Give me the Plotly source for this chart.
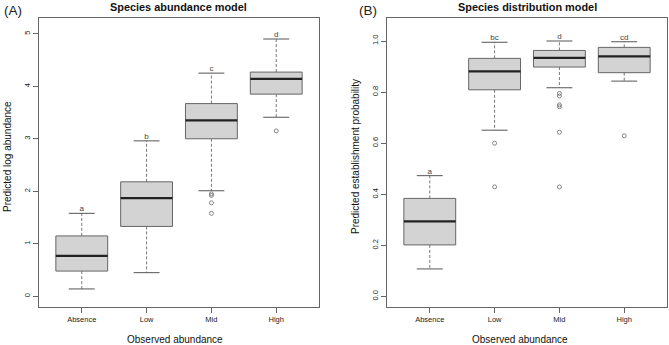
import plotly.graph_objects as go

categories = ["Absence", "Low", "Mid", "High"]

# Panel A: Species abundance model (predicted log abundance)
a_lower = [0.14, 0.45, 2.01, 3.41]
a_q1 = [0.48, 1.33, 3.00, 3.85]
a_median = [0.77, 1.87, 3.35, 4.14]
a_q3 = [1.15, 2.18, 3.67, 4.27]
a_upper = [1.58, 2.96, 4.25, 4.90]
a_out_cat = ["Mid", "Mid", "Mid", "Mid", "High"]
a_out_val = [1.95, 1.92, 1.78, 1.58, 3.15]
a_letters = ["a", "b", "c", "d"]

# Panel B: Species distribution model (predicted establishment probability)
b_lower = [0.108, 0.651, 0.817, 0.843]
b_q1 = [0.202, 0.809, 0.898, 0.876]
b_median = [0.294, 0.881, 0.934, 0.940]
b_q3 = [0.384, 0.932, 0.963, 0.975]
b_upper = [0.473, 0.995, 1.000, 0.997]
b_out_cat = ["Low", "Low", "Mid", "Mid", "Mid", "Mid", "Mid", "Mid", "High"]
b_out_val = [0.600, 0.429, 0.795, 0.785, 0.750, 0.743, 0.643, 0.429, 0.629]
b_letters = ["a", "bc", "d", "cd"]

FONT = "Liberation Sans, Arial, sans-serif"
BOXW = 0.4   # half box width
CAPW = 0.2   # half cap width

fig = go.Figure()


def add_panel(xa, ya, lower, q1, med, q3, upper, out_cat, out_val, letters):
    pos = {c: i + 1 for i, c in enumerate(categories)}
    # whiskers (dashed)
    wx, wy = [], []
    for i, c in enumerate(categories):
        x = pos[c]
        wx += [x, x, None, x, x, None]
        wy += [q3[i], upper[i], None, q1[i], lower[i], None]
    fig.add_trace(go.Scatter(x=wx, y=wy, mode="lines", xaxis=xa, yaxis=ya,
                             line=dict(color="#777777", width=1, dash="3px,2px"),
                             hoverinfo="skip", showlegend=False))
    # caps
    cx, cy = [], []
    for i, c in enumerate(categories):
        x = pos[c]
        cx += [x - CAPW, x + CAPW, None, x - CAPW, x + CAPW, None]
        cy += [upper[i], upper[i], None, lower[i], lower[i], None]
    fig.add_trace(go.Scatter(x=cx, y=cy, mode="lines", xaxis=xa, yaxis=ya,
                             line=dict(color="#555555", width=1),
                             hoverinfo="skip", showlegend=False))
    # boxes
    for i, c in enumerate(categories):
        x = pos[c]
        fig.add_trace(go.Scatter(
            x=[x - BOXW, x + BOXW, x + BOXW, x - BOXW, x - BOXW],
            y=[q1[i], q1[i], q3[i], q3[i], q1[i]],
            mode="lines", fill="toself", fillcolor="#d3d3d3",
            line=dict(color="#666666", width=1),
            xaxis=xa, yaxis=ya, hoverinfo="skip", showlegend=False))
    # medians
    mx, my = [], []
    for i, c in enumerate(categories):
        x = pos[c]
        mx += [x - BOXW, x + BOXW, None]
        my += [med[i], med[i], None]
    fig.add_trace(go.Scatter(x=mx, y=my, mode="lines", xaxis=xa, yaxis=ya,
                             line=dict(color="#222222", width=2.2),
                             hoverinfo="skip", showlegend=False))
    # outliers
    fig.add_trace(go.Scatter(x=[pos[c] for c in out_cat], y=out_val, mode="markers",
                             xaxis=xa, yaxis=ya,
                             marker=dict(symbol="circle-open", size=4,
                                         color="#777777", line=dict(width=0.9)),
                             hoverinfo="skip", showlegend=False))
    # letters
    fig.add_trace(go.Scatter(x=[pos[c] for c in categories], y=upper, mode="text",
                             text=letters, textposition="top center",
                             textfont=dict(family=FONT, size=8, color="#444444"),
                             xaxis=xa, yaxis=ya, hoverinfo="skip", showlegend=False))


add_panel("x", "y", a_lower, a_q1, a_median, a_q3, a_upper, a_out_cat, a_out_val, a_letters)
add_panel("x2", "y2", b_lower, b_q1, b_median, b_q3, b_upper, b_out_cat, b_out_val, b_letters)

W, H = 669, 345
ydom = [(H - 307) / H, (H - 18) / H]

axis_common = dict(showline=True, mirror=True, linecolor="#666666", linewidth=1,
                   showgrid=False, zeroline=False, ticks="outside", ticklen=5,
                   tickcolor="#666666", tickwidth=1,
                   tickfont=dict(family=FONT, size=7.5, color="#222222"))

xticks = dict(tickmode="array", tickvals=[1, 2, 3, 4], ticktext=categories,
              range=[0.34, 4.66])

TITLE_FONT = dict(family=FONT, size=10, color="#111111")

fig.update_layout(
    width=W, height=H,
    margin=dict(l=0, r=0, t=0, b=0),
    paper_bgcolor="white", plot_bgcolor="white",
    showlegend=False,
    xaxis=dict(domain=[39 / W, 319 / W], anchor="y", **xticks, **axis_common),
    xaxis2=dict(domain=[387 / W, 667 / W], anchor="y2", **xticks, **axis_common),
    yaxis=dict(domain=ydom, anchor="x", range=[-0.204, 5.30],
               tickmode="array", tickvals=[0, 1, 2, 3, 4, 5],
               tickangle=-90, **axis_common),
    yaxis2=dict(domain=ydom, anchor="x2", range=[-0.041, 1.09],
                tickmode="array", tickvals=[0, 0.2, 0.4, 0.6, 0.8, 1.0],
                ticktext=["0.0", "0.2", "0.4", "0.6", "0.8", "1.0"],
                tickangle=-90, **axis_common),
    annotations=[
        dict(text="<b>Species abundance model</b>", x=179 / W, y=1 - 7 / H,
             xref="paper", yref="paper", showarrow=False, xanchor="center", yanchor="middle",
             font=dict(family=FONT, size=10.9, color="#111111")),
        dict(text="<b>Species distribution model</b>", x=527 / W, y=1 - 7 / H,
             xref="paper", yref="paper", showarrow=False, xanchor="center", yanchor="middle",
             font=dict(family=FONT, size=10.9, color="#111111")),
        dict(text="(A)", x=2 / W, y=1 - 10 / H, xref="paper", yref="paper",
             showarrow=False, xanchor="left", yanchor="middle",
             font=dict(family=FONT, size=13.5, color="#222222")),
        dict(text="(B)", x=357 / W, y=1 - 10 / H, xref="paper", yref="paper",
             showarrow=False, xanchor="left", yanchor="middle",
             font=dict(family=FONT, size=13.5, color="#222222")),
        dict(text="Observed abundance", x=175 / W, y=1 - 339 / H,
             xref="paper", yref="paper", showarrow=False, xanchor="center", yanchor="middle",
             font=TITLE_FONT),
        dict(text="Observed abundance", x=520 / W, y=1 - 339 / H,
             xref="paper", yref="paper", showarrow=False, xanchor="center", yanchor="middle",
             font=TITLE_FONT),
        dict(text="Predicted log abundance", x=7 / W, y=1 - 157 / H, textangle=-90,
             xref="paper", yref="paper", showarrow=False, xanchor="center", yanchor="middle",
             font=TITLE_FONT),
        dict(text="Predicted establishment probability", x=355 / W, y=1 - 157 / H,
             textangle=-90,
             xref="paper", yref="paper", showarrow=False, xanchor="center", yanchor="middle",
             font=TITLE_FONT),
    ],
)

fig.write_html("out.html",
               config={"displayModeBar": False},
               post_script="document.body.style.margin='0';document.body.style.overflow='hidden';")
